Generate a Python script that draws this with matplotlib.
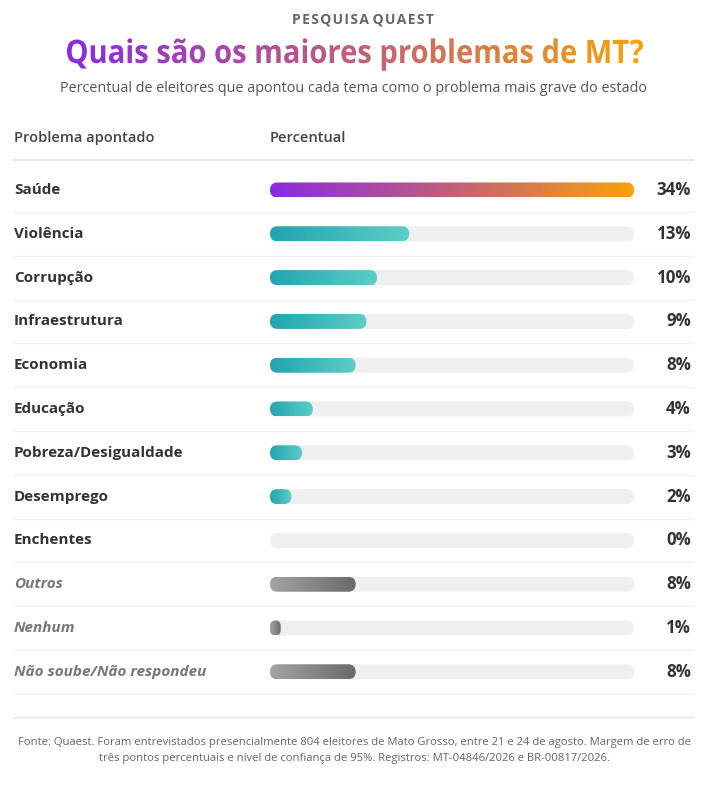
import numpy as np
import matplotlib
matplotlib.use("Agg")
import matplotlib.pyplot as plt
from matplotlib.patches import FancyBboxPatch, PathPatch
from matplotlib.colors import LinearSegmentedColormap
from matplotlib.textpath import TextPath
from matplotlib.font_manager import FontProperties
from matplotlib.transforms import Affine2D

plt.rcParams['font.family'] = ['Open Sans', 'DejaVu Sans']

# dados
problemas = ["Saúde", "Violência", "Corrupção", "Infraestrutura", "Economia",
             "Educação", "Pobreza/Desigualdade", "Desemprego", "Enchentes",
             "Outros", "Nenhum", "Não soube/Não respondeu"]
percentuais = [34, 13, 10, 9, 8, 4, 3, 2, 0, 8, 1, 8]
grupo = ["top", "tema", "tema", "tema", "tema", "tema", "tema", "tema", "tema",
         "outro", "outro", "outro"]

W, H = 725, 785
fig = plt.figure(figsize=(W / 100, H / 100), dpi=100)
ax = fig.add_axes([0, 0, 1, 1])
ax.set_xlim(0, W)
ax.set_ylim(H, 0)
ax.axis('off')

cmaps = {
    "top": LinearSegmentedColormap.from_list("top", ["#8a2be2", "#c0607a", "#f7a20a"]),
    "tema": LinearSegmentedColormap.from_list("tema", ["#22a4b2", "#5ecdc6"]),
    "outro": LinearSegmentedColormap.from_list("outro", ["#a3a3a3", "#6a6a6a"]),
}
grad = np.linspace(0, 1, 256).reshape(1, -1)

# cabecalho (espacamento entre letras com hair space)
kicker = "\u200a".join("PESQUISA") + " " + "\u200a".join("QUAEST")
ax.text(W / 2, 20, kicker, ha='center', va='center', fontsize=10,
        fontweight='bold', color='#666666')

# titulo com degrade
fp = FontProperties(family='Open Sans', weight='bold')
tp = TextPath((0, 0), "Quais são os maiores problemas de MT?", size=30, prop=fp)
bb = tp.get_extents()
tx0, tx1 = 67, 643
sx = (tx1 - tx0) / bb.width
tr = Affine2D().translate(-bb.x0, 0).scale(sx, -1.08).translate(tx0, 63)
tpath = tr.transform_path(tp)
tpatch = PathPatch(tpath, facecolor='none', edgecolor='none')
ax.add_patch(tpatch)
im = ax.imshow(grad, extent=[tx0, tx1, 72, 28], cmap=cmaps["top"], aspect='auto')
im.set_clip_path(tpatch)

ax.text(W / 2 - 9, 88, "Percentual de eleitores que apontou cada tema como o problema mais grave do estado",
        ha='center', va='center', fontsize=10.4, color='#555555')

ax.text(14, 138, "Problema apontado", ha='left', va='center', fontsize=10.5,
        fontweight='semibold', color='#444444')
ax.text(270, 138, "Percentual", ha='left', va='center', fontsize=10.5,
        fontweight='semibold', color='#444444')
ax.plot([14, 693], [160, 160], color='#e6e6e6', lw=1.5)

# barras
track_x0, track_x1 = 270, 634
track_w = track_x1 - track_x0
vmax = max(percentuais)
row0, step, bh = 190, 43.8, 15

for i, (nome, val, g) in enumerate(zip(problemas, percentuais, grupo)):
    y = row0 + i * step
    italic = g == "outro"
    ax.text(14, y, nome, ha='left', va='center', fontsize=11, fontweight='bold',
            style='italic' if italic else 'normal',
            color='#777777' if italic else '#333333')
    ax.text(691, y, f"{val}%", ha='right', va='center', fontsize=12.2,
            fontweight='bold', color='#333333')
    track = FancyBboxPatch((track_x0, y - bh / 2), track_w, bh,
                           boxstyle=f"round,pad=0,rounding_size={bh / 2}",
                           facecolor='#efefef', edgecolor='none')
    ax.add_patch(track)
    w = track_w * val / vmax
    if w > 0:
        r = min(bh / 2, w / 2)
        bar = FancyBboxPatch((track_x0, y - bh / 2), w, bh,
                             boxstyle=f"round,pad=0,rounding_size={r}",
                             facecolor='none', edgecolor='none')
        ax.add_patch(bar)
        img = ax.imshow(grad, extent=[track_x0, track_x0 + w, y + bh / 2, y - bh / 2],
                        cmap=cmaps[g], aspect='auto', zorder=3)
        img.set_clip_path(bar)
    ax.plot([14, 693], [y + step / 2, y + step / 2], color='#f0f0f0', lw=1)

ax.plot([14, 693], [717, 717], color='#e6e6e6', lw=1)

ax.text(W / 2 - 8, 743, "Fonte: Quaest. Foram entrevistados presencialmente 804 eleitores de Mato Grosso, "
        "entre 21 e 24 de agosto. Margem de erro de", ha='center', va='center',
        fontsize=8.1, color='#666666')
ax.text(W / 2 - 8, 759, "três pontos percentuais e nível de confiança de 95%. "
        "Registros: MT-04846/2026 e BR-00817/2026.", ha='center', va='center',
        fontsize=8.1, color='#666666')

ax.set_xlim(0, W)
ax.set_ylim(H, 0)
fig.savefig("out.png", dpi=100, facecolor='white')
